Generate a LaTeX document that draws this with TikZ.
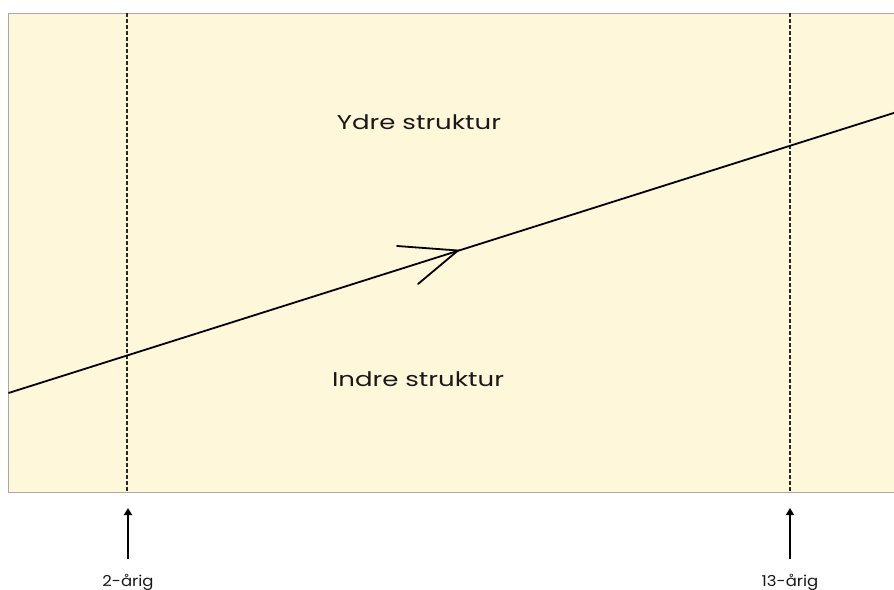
\documentclass[tikz,border=0pt]{standalone}
\usepackage{fontspec}
\setmainfont{Poppins}
\usetikzlibrary{arrows.meta}
\definecolor{cream}{HTML}{FEF7D9}
\definecolor{frame}{HTML}{A8A8A8}
\newcommand{\widetext}[2]{\scalebox{#1}[1]{#2}}
\tikzset{
  px/.style={x=1pt,y=-1pt},
  guide/.style={line width=2pt, dash pattern=on 4pt off 2pt, black!85},
  mainline/.style={line width=1.8pt, black},
  pointer/.style={line width=2pt, -{Triangle[length=7pt,width=8pt]}},
  biglabel/.style={font=\fontsize{20}{24}\selectfont, text=black!90, inner sep=0pt},
  smalllabel/.style={font=\fontsize{15}{18}\selectfont, text=black!90, inner sep=0pt},
}
\begin{document}
\begin{tikzpicture}[px]
\useasboundingbox (0,0) rectangle (894,589);
\fill[white] (0,0) rectangle (894,589);
\begin{scope}
\clip (0,0) rectangle (894,589);
\draw[frame, fill=cream, line width=0.9pt] (8.5,13) rectangle (900,492);
\coordinate (g1t) at (127,13);
\coordinate (g1b) at (127,492);
\coordinate (g2t) at (790,13);
\coordinate (g2b) at (790,492);
\draw[guide] (g1t) -- (g1b);
\draw[guide] (g2t) -- (g2b);
\coordinate (ls) at (8.5,393);
\coordinate (le) at (900,111);
\draw[mainline] (ls) -- (le);
\coordinate (tip) at (458,250.5);
\coordinate (arm1) at (397,246);
\coordinate (arm2) at (418,284);
\draw[mainline, line cap=round] (arm1) -- (tip) -- (arm2);
\node[biglabel] (ydre) at (419,122) {\widetext{1.3}{Ydre struktur}};
\node[biglabel] (indre) at (418,379) {\widetext{1.3}{Indre struktur}};
\node[smalllabel, anchor=base] (l1) at (128,586) {\widetext{1.1}{2-årig}};
\node[smalllabel, anchor=base] (l2) at (790,586) {\widetext{1.1}{13-årig}};
\end{scope}
\coordinate (a1s) at (128,559);
\coordinate (a1e) at (128,508);
\coordinate (a2s) at (790,559);
\coordinate (a2e) at (790,508);
\draw[pointer] (a1s) -- (a1e);
\draw[pointer] (a2s) -- (a2e);
\end{tikzpicture}
\end{document}
